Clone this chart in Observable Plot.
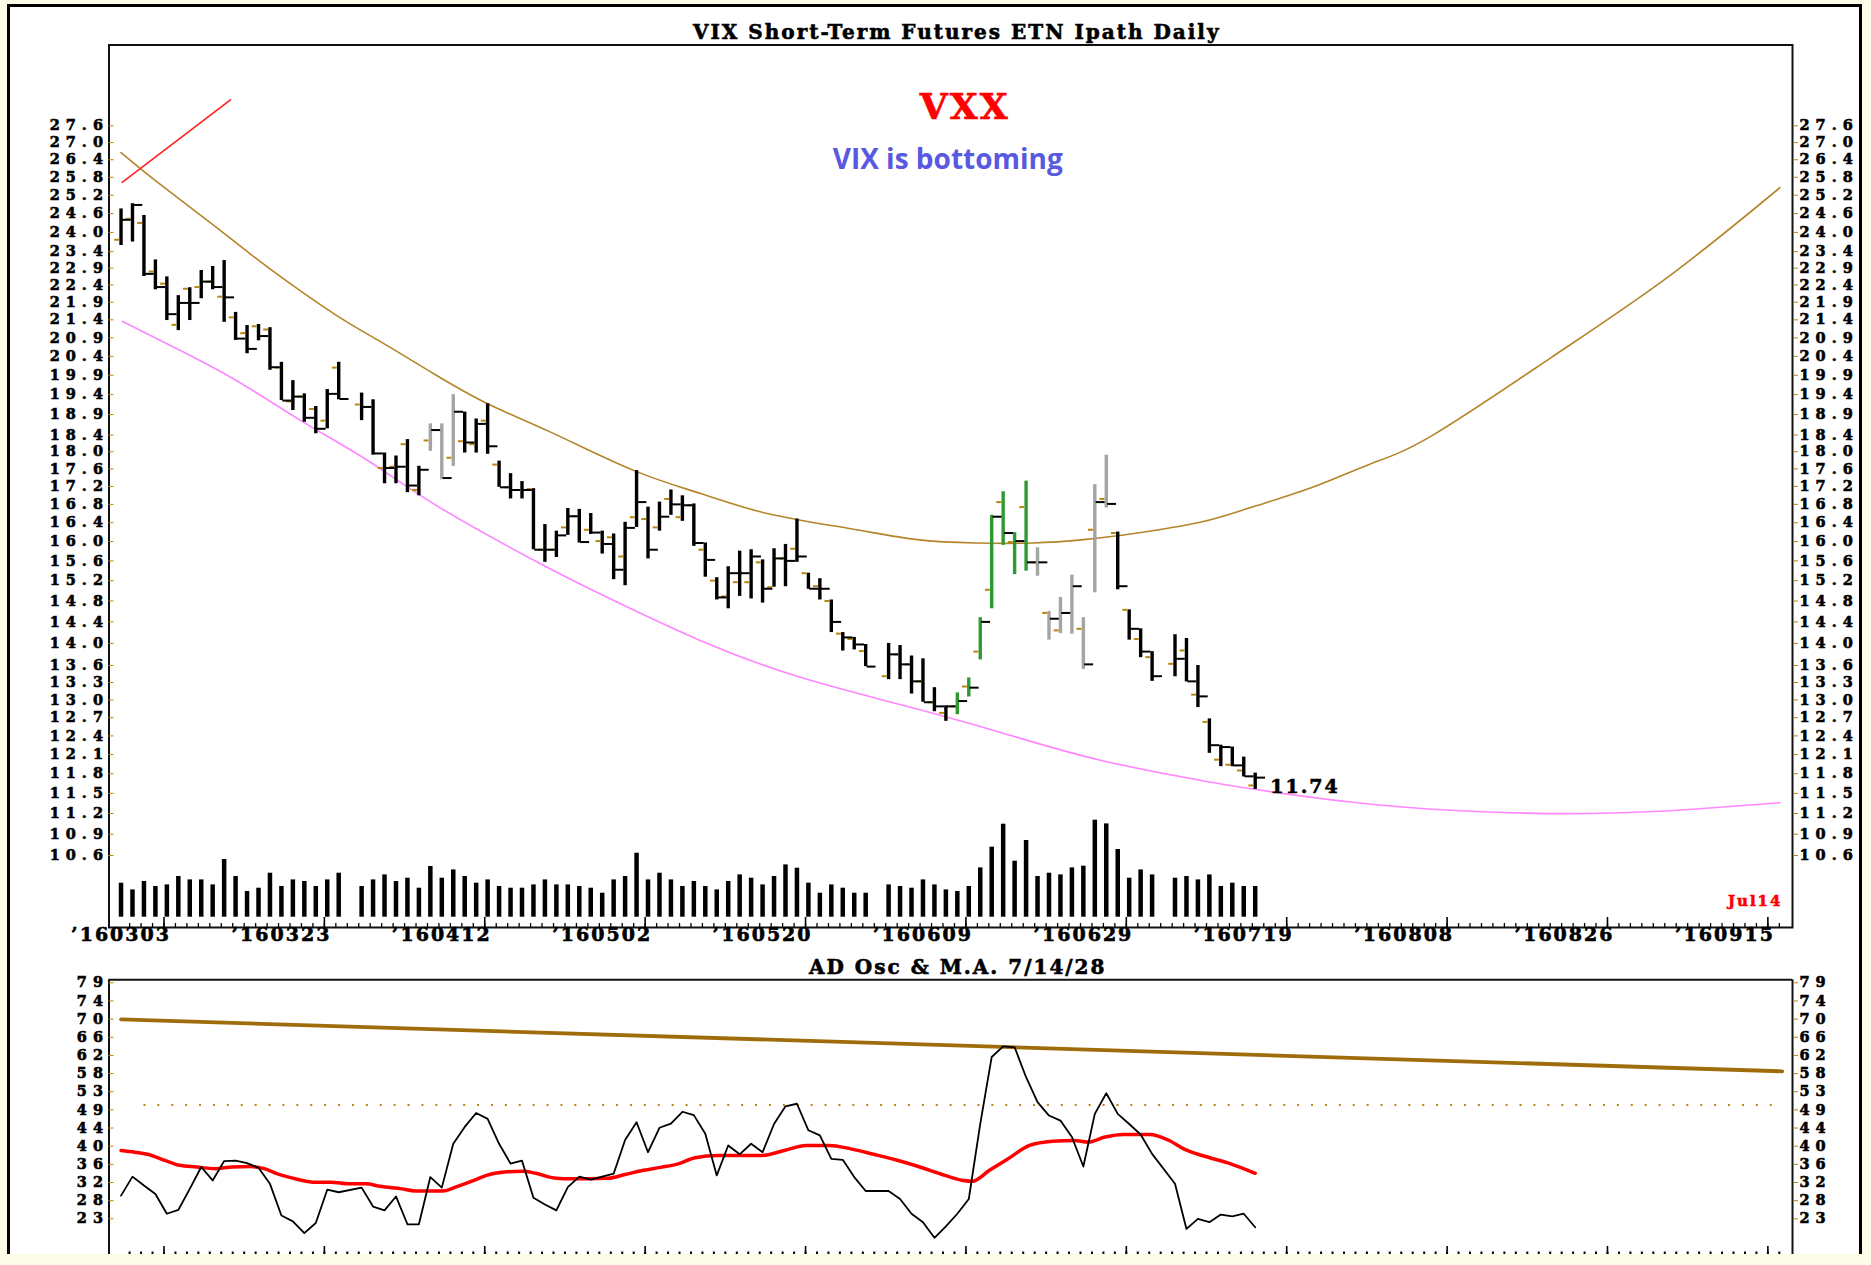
<!DOCTYPE html>
<html>
<head>
<meta charset="utf-8">
<script src="https://cdn.jsdelivr.net/npm/d3@7"></script>
<script src="https://cdn.jsdelivr.net/npm/@observablehq/plot@0.6"></script>
<style>
html, body { margin: 0; padding: 0; background: #fcfce8; }
#wrap { position: relative; width: 1871px; height: 1265px; overflow: hidden; background: #fcfce8; }
#box { position: absolute; left: 7px; top: 4px; width: 1855px; height: 1250px; background: #fff;
       border-left: 3px solid #000; border-top: 3px solid #000; border-right: 3px solid #000; box-sizing: border-box; }
#wrap svg { position: absolute; left: 0; }
</style>
</head>
<body>
<div id="wrap"><div id="box"></div></div>
<script>
// ---------------- DATA ----------------
// trading-day slots (weekday index, 0 = 2016-02-26; holidays 20, 66, 91 are empty)
const slots = [0,1,2,3,4,5,6,7,8,9,10,11,12,13,14,15,16,17,18,19,
  21,22,23,24,25,26,27,28,29,30,31,32,33,34,35,36,37,38,39,40,41,42,43,44,45,46,47,48,49,50,51,52,53,54,55,56,57,58,59,60,61,62,63,64,65,
  67,68,69,70,71,72,73,74,75,76,77,78,79,80,81,82,83,84,85,86,87,88,89,90,
  92,93,94,95,96,97,98,99];

const open = [23.77,24.43,24.30,22.80,22.44,21.26,22.29,22.34,22.50,22.06,21.47,21.03,21.22,21.13,20.10,19.23,19.35,19.04,18.75,20.10,
  19.15,19.09,17.62,17.65,18.18,17.12,18.27,18.52,17.86,18.25,18.18,18.75,17.70,17.18,17.12,17.14,15.83,15.83,16.30,16.54,16.25,16.01,16.09,15.69,16.52,16.48,16.30,16.92,16.52,16.78,15.83,15.20,14.89,15.17,15.17,15.57,15.07,15.65,15.85,15.35,15.09,14.80,14.18,14.08,13.86,
  13.41,13.80,13.62,13.32,12.96,12.78,12.89,13.23,13.85,15.02,16.85,15.99,16.74,15.57,14.57,14.24,14.57,14.27,16.25,16.92,16.18,14.63,14.08,13.75,
  13.63,13.87,13.09,12.63,12.02,11.94,11.85,11.62];

const high = [24.75,24.92,24.54,23.15,22.64,22.09,22.32,22.83,22.95,23.13,21.61,21.24,21.27,21.18,20.24,19.76,19.42,19.10,19.53,20.24,
  19.44,19.27,17.97,17.90,18.29,17.66,18.67,18.67,19.40,18.96,18.79,19.17,17.78,17.49,17.31,17.15,16.36,16.22,16.71,16.69,16.60,16.22,16.16,16.41,17.56,16.74,16.85,17.12,16.99,16.81,15.97,15.26,15.48,15.80,15.83,15.62,15.85,15.94,16.48,15.35,15.24,14.82,14.20,14.11,13.98,
  14.00,13.96,13.77,13.72,13.21,12.90,13.12,13.38,14.48,16.56,17.08,16.19,17.32,15.87,14.60,14.87,15.31,14.48,17.24,17.92,16.20,14.63,14.27,13.85,
  14.16,14.09,13.60,12.68,12.25,12.22,12.06,11.81];

const low = [23.59,23.70,22.65,22.26,21.38,21.10,21.38,22.00,22.26,21.33,20.83,20.47,20.82,20.03,19.25,19.00,18.71,18.43,18.55,19.27,
  18.75,17.92,17.26,17.26,17.06,16.99,18.01,17.35,17.66,17.97,17.97,17.94,17.18,16.92,16.92,15.83,15.57,15.67,16.13,15.97,16.15,15.74,15.22,15.10,16.30,15.64,16.22,16.56,16.43,15.90,15.27,14.82,14.65,14.89,14.84,14.76,15.07,15.08,15.57,15.03,14.82,14.20,13.86,13.88,13.58,
  13.35,13.35,13.10,12.96,12.80,12.64,12.75,13.05,13.70,14.65,15.92,15.32,15.39,15.29,14.06,14.18,14.17,13.53,14.96,16.72,15.02,14.06,13.74,13.32,
  13.40,13.31,12.87,12.12,11.91,11.91,11.75,11.56];

const close = [24.40,24.88,22.73,22.34,21.56,21.88,21.88,22.50,22.34,22.04,20.88,20.60,20.95,20.11,19.25,19.35,18.82,18.55,19.42,19.29,
  19.09,17.96,17.62,17.65,17.22,17.58,18.52,17.39,18.97,18.22,18.67,18.13,17.18,17.12,17.12,15.83,15.83,16.13,16.54,15.99,16.19,15.95,15.42,16.29,16.85,15.83,16.53,16.80,16.78,15.97,15.62,14.87,15.35,15.35,15.69,15.04,15.65,15.60,15.69,15.04,15.04,14.40,14.11,13.98,13.58,
  13.80,13.62,13.32,12.96,12.89,12.89,12.98,13.21,14.40,16.53,16.18,16.01,15.57,15.57,14.46,14.57,15.09,13.62,16.85,16.81,15.09,14.27,13.85,13.41,
  13.72,13.32,13.06,12.25,12.22,11.93,11.76,11.74];

// volume (millions of shares, estimated)
const volume = [34,27.3,35.7,30.7,32.3,40.7,37.3,37.3,32.3,57.7,40.7,25.7,29,44,30.7,37.3,35.7,30.7,37.3,44,
  30.7,37.3,42.3,35.7,39,29,50.7,39,47.3,40.7,34,37.3,30.7,29,29,32.3,37.3,32.3,32.3,30.7,29,24,37.3,40.7,64,37.3,44,37.3,30.7,35.7,30.7,27.3,35.7,42.3,39,32.3,40.7,52.3,49,34,24,32.3,29,24,24,
  32.3,30.7,29,37.3,32.3,27.3,25.7,30.7,49.3,70,93,56,76.7,40.7,44,42.3,49.3,51,97,93.3,67.7,39,47.3,42.3,
  39,40.7,37.3,42.3,30.7,34,30.7,30.7];

// AD oscillator
const osc = [28.5,33.0,30.9,28.9,24.2,25.1,30.1,35.3,32.1,36.7,36.8,36.2,35.1,31.3,23.8,22.4,19.6,22.0,29.9,29.3,
  30.4,25.9,25.0,28.3,21.7,21.7,32.9,30.4,40.8,44.8,48.1,46.7,40.8,36.1,36.8,28.0,26.4,25.0,30.5,33.0,32.3,33.0,33.7,41.7,45.9,38.8,44.6,45.6,48.4,47.6,43.2,33.3,40.4,38.3,40.8,38.8,45.5,49.7,50.3,44.0,42.8,37.2,37.0,32.9,29.6,
  29.6,27.7,24.2,22.2,18.5,21.2,24.2,27.7,45.5,61.4,63.9,63.7,56.6,50.7,47.5,46.3,42.4,35.4,47.9,52.8,47.9,45.5,43.0,38.4,
  31.3,20.6,23.0,22.2,24.0,23.6,24.2,21.0];

// moving average of the oscillator
const maSlots = [0,1.2,2.3,3.9,5.1,6.6,8.2,9.7,11.3,12.5,13.6,15.2,16.8,18.3,19.9,21.4,22.6,24.5,25.7,26.9,28.1,29.2,30.8,31.9,33.5,35.1,36.2,37.8,39.4,40.9,42.5,44.0,45.6,47.1,48.7,50.1,52.1,54.0,55.9,57.9,59.8,61.8,63.7,65.7,67.6,69.6,71.5,73.5,74.3,75.8,77.4,79.3,81.3,83.2,84.4,85.9,87.5,89.8,91.4,92.9,94.9,96.8,99.0];
const maValues = [39.2,38.8,38.3,36.8,35.7,35.3,34.9,35.3,35.4,34.9,33.7,32.5,31.7,31.7,31.3,31.3,30.7,30.1,29.6,29.6,29.6,30.5,32.1,33.3,34.1,34.3,33.8,32.7,32.5,32.5,32.6,33.5,34.5,35.2,36.1,37.5,38.0,38.0,38.0,39.2,40.4,40.4,39.6,38.3,37.0,35.4,33.7,32.1,31.9,34.5,37.2,40.4,41.4,41.6,41.2,42.4,43.0,43.0,41.7,39.4,37.6,36.1,33.8];

// drawn curves
const upperArcSlots = [0,3.0,8.1,12.8,18.6,22.9,27.3,32.0,37.5,44.8,50.6,56.4,63.7,69.5,74.6,79.6,84.0,88.4,94.2,98.6,104,109,114.4,124.8,135.2,144.8];
const upperArcValues = [26.65,25.69,24.22,22.93,21.57,20.75,19.94,19.17,18.47,17.56,17.04,16.60,16.27,16.04,15.97,15.97,16.04,16.17,16.41,16.73,17.18,17.71,18.38,20.36,22.68,25.45];
const lowerArcSlots = [0.1,4.0,9.8,15.7,21.5,27.3,35.5,41.8,50.6,59.3,68.0,76.7,85.5,94.2,98.6,107.3,116.9,128.2,137.8,144.8];
const lowerArcValues = [21.36,20.74,19.81,18.75,17.80,16.81,15.68,14.94,14.05,13.39,12.92,12.46,12.01,11.70,11.57,11.37,11.24,11.20,11.27,11.36];
const redLineSlots = [0.1, 9.55];
const redLineValues = [25.63, 28.56];
const trendSlots = [0, 145];
const trendValues = [70.3, 58.0];
const midLevel = 50;

// categories
const greenSlots = [73,74,75,76,77,78,79];
const graySlots = [27,28,29,80,81,82,83,84,85,86];

// tick labels and texts
const priceTicks = [27.6,27.0,26.4,25.8,25.2,24.6,24.0,23.4,22.9,22.4,21.9,21.4,20.9,20.4,19.9,19.4,18.9,18.4,18.0,17.6,17.2,16.8,16.4,16.0,15.6,15.2,14.8,14.4,14.0,13.6,13.3,13.0,12.7,12.4,12.1,11.8,11.5,11.2,10.9,10.6];
const oscTickLabels = ["79","74","70","66","62","58","53","49","44","40","36","32","28","23"];
const dateLabels = ["\u2019160303","\u2019160323","\u2019160412","\u2019160502","\u2019160520","\u2019160609","\u2019160629","\u2019160719","\u2019160808","\u2019160826","\u2019160915"];
const dateLabelSlots = [4,18,32,46,60,74,88,102,116,130,144];
const title = "VIX Short-Term Futures ETN Ipath Daily";
const subTitle = "AD Osc & M.A. 7/14/28";
const symbol = "VXX";
const note = "VIX is bottoming";
const lastDateLabel = "Jul14";

// ---------------- BUILD ----------------
const W = 1871;
const xDomain = [-1.05, 145.9];
const priceDomain = [9.645, 30.687];
const oscDomain = [14.53, 79.71];
const M = {left: 108.5, right: 79};
const upperH = 960, upperTop = 44.5, upperBottom = 33;
const upperFrameH = upperH - upperTop - upperBottom;
const lowerH = 325, lowerTop = 39.3, lowerBottom = 11;
const lowerFrameH = lowerH - lowerTop - lowerBottom;
const brown = "#b8860b";
const tickFont = 14.5;
const tickSpacing = 6;
const baseStyle = {background: "transparent", overflow: "visible", fontFamily: "'DejaVu Serif', serif",
                   fontWeight: "bold", fontSize: "19px", letterSpacing: "2px", color: "#000"};

const bars = slots.map((s, i) => ({
  slot: s, open: open[i], high: high[i], low: low[i], close: close[i], vol: volume[i], osc: osc[i],
  group: greenSlots.includes(s) ? "green" : graySlots.includes(s) ? "gray" : "black"
}));
const groupColor = {black: "#000000", gray: "#a4a4a4", green: "#2f9a2f"};
const upperArc = upperArcSlots.map((s, i) => ({s, v: upperArcValues[i]}));
const lowerArc = lowerArcSlots.map((s, i) => ({s, v: lowerArcValues[i]}));
const redLine = redLineSlots.map((s, i) => ({s, v: redLineValues[i]}));
const ma = maSlots.map((s, i) => ({s, v: maValues[i]}));
const trend = trendSlots.map((s, i) => ({s, v: trendValues[i]}));
const minorSlots = d3.range(1, 146);
const oscTickValues = oscTickLabels.map((_, k) => 79 - k * 56 / 13);
const oscLabelOf = new Map(oscTickValues.map((v, k) => [v, oscTickLabels[k]]));
const last = bars[bars.length - 1];

const wrap = document.getElementById("wrap");

// volume layer
const volPlot = Plot.plot({
  width: W, height: upperH,
  marginLeft: M.left, marginRight: M.right, marginTop: upperTop, marginBottom: 43.3,
  x: {domain: xDomain, axis: null},
  y: {domain: [0, 872.2], axis: null},
  style: baseStyle,
  marks: [
    Plot.ruleX(bars, {x: "slot", y1: 0, y2: "vol", stroke: "#000", strokeWidth: 4.5})
  ]
});
volPlot.style.top = "0px";
wrap.appendChild(volPlot);

// price layer
const pricePlot = Plot.plot({
  width: W, height: upperH,
  marginLeft: M.left, marginRight: M.right, marginTop: upperTop, marginBottom: upperBottom,
  x: {domain: xDomain, axis: null},
  y: {type: "log", domain: priceDomain},
  style: baseStyle,
  marks: [
    Plot.frame({stroke: "#111", strokeWidth: 2}),
    Plot.line(upperArc, {x: "s", y: "v", stroke: "#b5842a", strokeWidth: 1.6, curve: "natural"}),
    Plot.line(lowerArc, {x: "s", y: "v", stroke: "#ff86ff", strokeWidth: 1.6, curve: "natural"}),
    Plot.line(redLine, {x: "s", y: "v", stroke: "#ff2020", strokeWidth: 1.6}),
    ...["black", "gray", "green"].map(g =>
      Plot.ruleX(bars.filter(d => d.group === g), {x: "slot", y1: "low", y2: "high", stroke: groupColor[g], strokeWidth: 3.4})),
    Plot.ruleY(bars, {y: "open", x1: d => d.slot - 0.55, x2: d => d.slot - 0.12, stroke: brown, strokeWidth: 2}),
    Plot.ruleY(bars, {y: "close", x1: d => d.slot + 0.12, x2: d => d.slot + 0.9, stroke: "#000", strokeWidth: 2}),
    Plot.axisY(priceTicks, {anchor: "left", tickSize: 5, tickPadding: 0, dx: tickSpacing - 1, stroke: brown, fill: "#000", fontSize: tickFont, tickFormat: d => d.toFixed(1), label: null}),
    Plot.axisY(priceTicks, {anchor: "right", tickSize: 5, tickPadding: 2, stroke: brown, fill: "#000", fontSize: tickFont, tickFormat: d => d.toFixed(1), label: null}),
    Plot.ruleX(minorSlots, {x: d => d - 0.25, insetTop: upperFrameH - 4, stroke: "#000", strokeWidth: 1.3}),
    Plot.ruleX(dateLabelSlots, {x: d => d - 0.25, insetTop: upperFrameH - 10, stroke: "#000", strokeWidth: 1.6}),
    Plot.text(dateLabels, {x: (d, i) => dateLabelSlots[i] - 0.25, text: d => d, frameAnchor: "bottom", lineAnchor: "top", dy: 0, dx: 7, textAnchor: "end"}),
    Plot.text([title], {text: d => d, frameAnchor: "top", dy: -20, dx: 6, fontSize: 20}),
    Plot.text([symbol], {text: d => d, frameAnchor: "top", dy: 48, dx: 14, fontSize: 36, fill: "#ff0000"}),
    Plot.text([note], {text: d => d, frameAnchor: "top", dy: 104, dx: -3, fontSize: 28, fontFamily: "'Open Sans', sans-serif", fill: "#5858e0"}),
    Plot.text([last], {x: "slot", y: "close", text: d => d.close.toFixed(2), dx: 15, dy: 9, textAnchor: "start"}),
    Plot.text([lastDateLabel], {text: d => d, frameAnchor: "bottom-right", dx: -10, dy: -22, textAnchor: "end", fill: "#ff0000", fontSize: 15})
  ]
});
pricePlot.style.top = "0px";
wrap.appendChild(pricePlot);

// oscillator panel
const oscPlot = Plot.plot({
  width: W, height: lowerH,
  marginLeft: M.left, marginRight: M.right, marginTop: lowerTop, marginBottom: lowerBottom,
  x: {domain: xDomain, axis: null},
  y: {domain: oscDomain},
  style: baseStyle,
  marks: [
    Plot.ruleY([oscDomain[1]], {stroke: "#111", strokeWidth: 2}),
    Plot.ruleX(xDomain, {stroke: "#111", strokeWidth: 2}),
    Plot.ruleY([midLevel], {x1: 2, x2: 145, stroke: brown, strokeWidth: 2, strokeDasharray: "2 11.9"}),
    Plot.line(trend, {x: "s", y: "v", stroke: "#9e6c0a", strokeWidth: 3.8}),
    Plot.line(ma, {x: "s", y: "v", stroke: "#ff0000", strokeWidth: 3.5, curve: "monotone-x"}),
    Plot.line(bars, {x: "slot", y: "osc", stroke: "#000", strokeWidth: 1.8}),
    Plot.axisY(oscTickValues, {anchor: "left", tickSize: 5, tickPadding: 0, dx: tickSpacing - 1, stroke: brown, fill: "#000", fontSize: tickFont, tickFormat: d => oscLabelOf.get(d), label: null}),
    Plot.axisY(oscTickValues, {anchor: "right", tickSize: 5, tickPadding: 2, stroke: brown, fill: "#000", fontSize: tickFont, tickFormat: d => oscLabelOf.get(d), label: null}),
    Plot.ruleX(minorSlots, {x: d => d - 0.25, insetTop: lowerFrameH - 2.5, stroke: "#000", strokeWidth: 2}),
    Plot.ruleX(dateLabelSlots, {x: d => d - 0.25, insetTop: lowerFrameH - 8, stroke: "#000", strokeWidth: 1.6}),
    Plot.text([subTitle], {text: d => d, frameAnchor: "top", dy: -20, dx: 7, fontSize: 20})
  ]
});
oscPlot.style.top = "940px";
wrap.appendChild(oscPlot);

// lettering: heavier bitmap-like serif texts, wider spacing on the axis ticks, plain spacing for the note
d3.selectAll("#wrap svg text").each(function() {
  if (this.textContent === note) {
    this.style.letterSpacing = "0px";
    return;
  }
  const group = this.parentNode && this.parentNode.getAttribute("aria-label");
  if (group === "y-axis tick label") this.style.letterSpacing = tickSpacing + "px";
  const f = getComputedStyle(this).fill;
  this.style.stroke = f;
  this.style.strokeWidth = "0.6px";
});
</script>
</body>
</html>
